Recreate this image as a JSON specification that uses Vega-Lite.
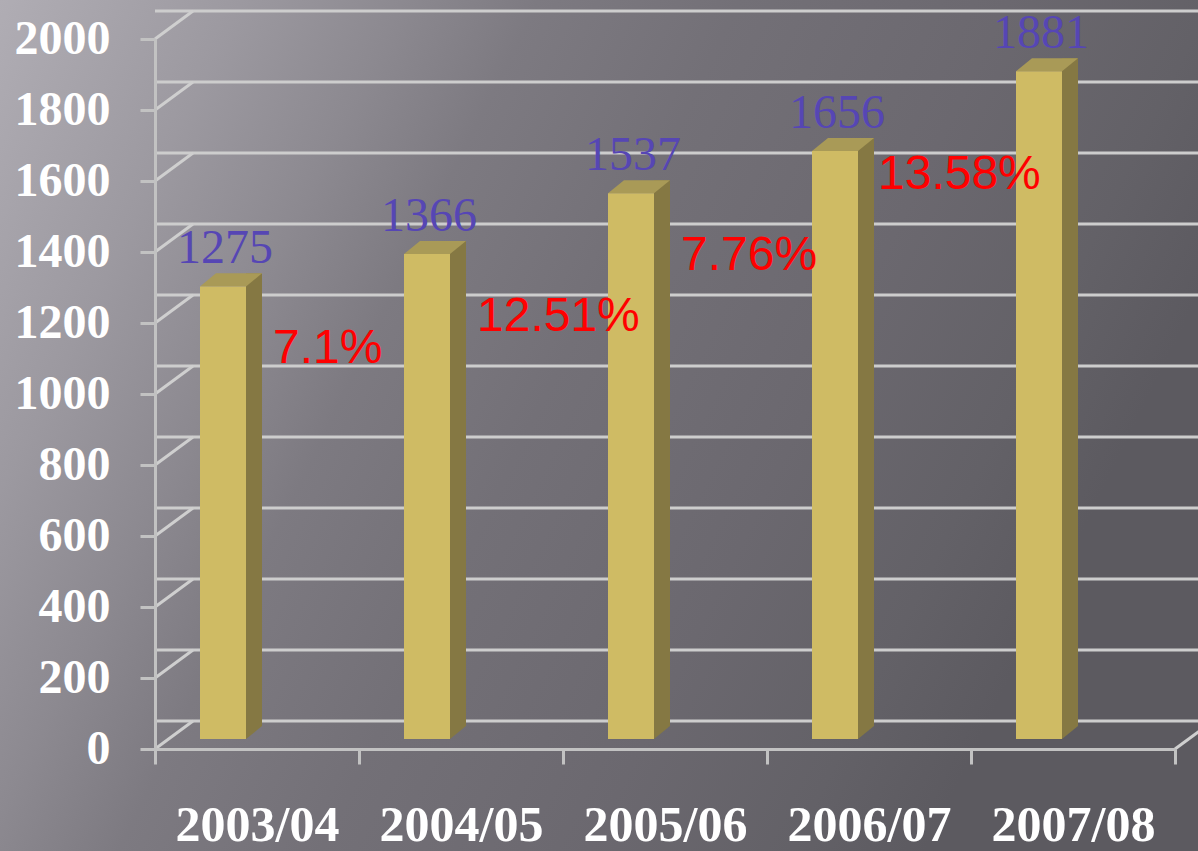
{
  "$schema": "https://vega.github.io/schema/vega-lite/v6.json",
  "width": 1020,
  "height": 710,
  "autosize": {"type": "none"},
  "padding": {"left": 155, "top": 39, "right": 23, "bottom": 102},
  "background": "#77747b",
  "config": {
    "view": {"stroke": null},
    "scale": {"bandPaddingInner": 0, "bandPaddingOuter": 0},
    "axis": {
      "grid": false,
      "title": null,
      "domainColor": "#c2c2c2",
      "domainWidth": 3,
      "tickColor": "#c2c2c2",
      "tickWidth": 3,
      "tickSize": 15,
      "labelColor": "#ffffff",
      "labelFont": "Liberation Serif",
      "labelFontWeight": "bold",
      "labelLimit": 0
    },
    "axisX": {"labelAngle": 0, "labelFontSize": 50, "labelPadding": 36, "tickBand": "extent"},
    "axisY": {"labelFontSize": 48, "labelPadding": 30, "tickCount": 10, "format": "d"}
  },
  "datasets": {
    "main": [
      {"year": "2003/04", "value": 1275, "growth": "7.1%"},
      {"year": "2004/05", "value": 1366, "growth": "12.51%"},
      {"year": "2005/06", "value": 1537, "growth": "7.76%"},
      {"year": "2006/07", "value": 1656, "growth": "13.58%"},
      {"year": "2007/08", "value": 1881}
    ],
    "grid": [
      {"g": 0}, {"g": 200}, {"g": 400}, {"g": 600}, {"g": 800}, {"g": 1000},
      {"g": 1200}, {"g": 1400}, {"g": 1600}, {"g": 1800}, {"g": 2000}
    ],
    "bg": [{"k": 1}]
  },
  "layer": [
    {
      "data": {"name": "bg"},
      "mark": {
        "type": "rect",
        "color": {
          "gradient": "linear", "x1": 0, "y1": 0, "x2": 1, "y2": 0.35,
          "stops": [
            {"offset": 0, "color": "#b0adb4"},
            {"offset": 0.18, "color": "#9c99a0"},
            {"offset": 0.3, "color": "#8c8990"},
            {"offset": 0.4, "color": "#7d7a81"},
            {"offset": 0.55, "color": "#737077"},
            {"offset": 0.75, "color": "#6b686f"},
            {"offset": 0.9, "color": "#636167"},
            {"offset": 1, "color": "#5c5a60"}
          ]
        }
      },
      "encoding": {
        "x": {"value": -155},
        "x2": {"value": 1043},
        "y": {"value": -39},
        "y2": {"value": 812}
      }
    },
    {
      "data": {"name": "grid"},
      "mark": {"type": "rule", "color": "#cdcdcd", "strokeWidth": 3, "xOffset": 38, "x2Offset": 40, "yOffset": -28},
      "encoding": {"y": {"field": "g", "type": "quantitative", "scale": {"domain": [0, 2000], "nice": false}}}
    },
    {
      "data": {"name": "grid"},
      "mark": {"type": "point", "shape": "M-1,0.737L1,-0.737", "size": 1444, "filled": false, "stroke": "#cfcfcf", "strokeWidth": 3, "opacity": 1, "xOffset": -83, "yOffset": -14},
      "encoding": {
        "x": {"datum": "2003/04", "type": "nominal"},
        "y": {"field": "g", "type": "quantitative"}
      }
    },
    {
      "data": {"name": "bg"},
      "mark": {"type": "point", "shape": "M-1,0.737L1,-0.737", "size": 1444, "filled": false, "stroke": "#cfcfcf", "strokeWidth": 3, "opacity": 1, "xOffset": 121, "yOffset": -14},
      "encoding": {
        "x": {"datum": "2007/08", "type": "nominal"},
        "y": {"datum": 0, "type": "quantitative"}
      }
    },
    {
      "data": {"name": "main"},
      "mark": {"type": "bar", "width": 16, "color": "#857843", "xOffset": -3, "yOffset": -23, "y2Offset": -23},
      "encoding": {
        "x": {"field": "year", "type": "nominal"},
        "y": {"field": "value", "type": "quantitative"}
      }
    },
    {
      "data": {"name": "main"},
      "mark": {"type": "point", "shape": "M-1,-0.8125L-1,0.8125L1,-0.8125Z", "size": 256, "filled": true, "color": "#857843", "strokeWidth": 0, "opacity": 1, "xOffset": -3, "yOffset": -16.5},
      "encoding": {
        "x": {"field": "year", "type": "nominal"},
        "y": {"datum": 0, "type": "quantitative"}
      }
    },
    {
      "data": {"name": "main"},
      "mark": {"type": "point", "shape": "M-1,0.2097L0.4839,0.2097L1,-0.2097L-0.4839,-0.2097Z", "size": 3844, "filled": true, "color": "#a99a57", "strokeWidth": 0, "opacity": 1, "xOffset": -26, "yOffset": -16.5},
      "encoding": {
        "x": {"field": "year", "type": "nominal"},
        "y": {"field": "value", "type": "quantitative"}
      }
    },
    {
      "data": {"name": "main"},
      "mark": {"type": "bar", "width": 46, "color": "#cfbb64", "xOffset": -34, "yOffset": -10, "y2Offset": -10},
      "encoding": {
        "x": {"field": "year", "type": "nominal", "axis": {"zindex": 1}},
        "y": {"field": "value", "type": "quantitative", "axis": {"zindex": 1}}
      }
    },
    {
      "data": {"name": "main"},
      "mark": {"type": "text", "font": "Liberation Serif", "fontSize": 48, "color": "#5646b4", "align": "center", "baseline": "alphabetic", "dx": -32, "dy": -33},
      "encoding": {
        "x": {"field": "year", "type": "nominal"},
        "y": {"field": "value", "type": "quantitative"},
        "text": {"field": "value", "type": "quantitative"}
      }
    },
    {
      "data": {"name": "main"},
      "transform": [{"filter": "datum.growth != null && datum.year != '2006/07'"}],
      "mark": {"type": "text", "font": "Liberation Sans", "fontSize": 48, "color": "#ff0000", "align": "left", "baseline": "middle", "dx": 16, "dy": 53},
      "encoding": {
        "x": {"field": "year", "type": "nominal"},
        "y": {"field": "value", "type": "quantitative"},
        "text": {"field": "growth", "type": "nominal"}
      }
    },
    {
      "data": {"name": "main"},
      "transform": [{"filter": "datum.year == '2006/07'"}],
      "mark": {"type": "text", "font": "Liberation Sans", "fontSize": 48, "color": "#ff0000", "align": "left", "baseline": "middle", "dx": 9, "dy": 14},
      "encoding": {
        "x": {"field": "year", "type": "nominal"},
        "y": {"field": "value", "type": "quantitative"},
        "text": {"field": "growth", "type": "nominal"}
      }
    }
  ]
}
